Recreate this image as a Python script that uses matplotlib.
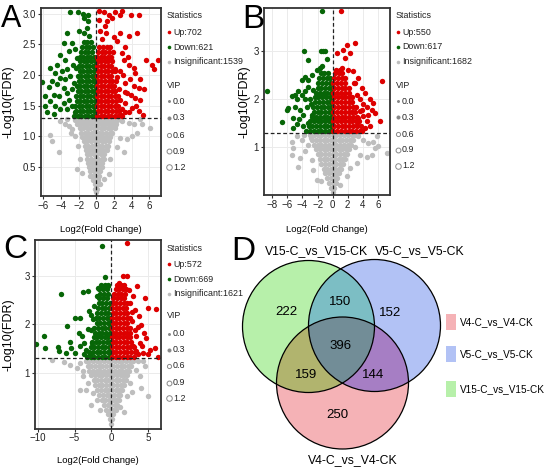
import numpy as np
import matplotlib
matplotlib.use("Agg")
import matplotlib.pyplot as plt
from matplotlib.colors import to_rgba
from matplotlib.patches import Circle, Rectangle

# ---------------------------------------------------------------- data
# volcano panels: dense cores written as (y, [x, ...]) rows, loose points as (x, y)
A_COUNTS = [702, 621, 1539]
B_COUNTS = [550, 617, 1682]
C_COUNTS = [572, 669, 1621]
VIP_LEVELS = ["0.0", "0.3", "0.6", "0.9", "1.2"]

A_UP_ROWS = [
    (1.34, [0.1, 0.5, 0.9, 1.3, 1.7, 2.1, 2.5, 2.9]),
    (1.42, [0.15, 0.55, 0.95, 1.35, 1.75, 2.2, 2.6]),
    (1.50, [0.1, 0.5, 0.9, 1.3, 1.7, 2.1, 2.45]),
    (1.58, [0.15, 0.55, 0.95, 1.35, 1.8, 2.2]),
    (1.66, [0.1, 0.5, 0.9, 1.3, 1.7, 2.1, 2.5]),
    (1.74, [0.15, 0.55, 0.95, 1.35, 1.75, 2.15]),
    (1.82, [0.1, 0.5, 0.9, 1.3, 1.7, 2.05]),
    (1.90, [0.15, 0.55, 0.95, 1.4, 1.8, 2.2]),
    (1.98, [0.1, 0.5, 0.9, 1.3, 1.7]),
    (2.06, [0.15, 0.55, 0.95, 1.35, 1.75, 2.1]),
    (2.14, [0.1, 0.5, 0.9, 1.3, 1.65]),
    (2.22, [0.15, 0.55, 0.95, 1.35, 1.8]),
    (2.30, [0.1, 0.5, 0.9, 1.3, 1.7]),
    (2.38, [0.2, 0.6, 1.0, 1.4, 1.85]),
    (2.45, [0.3, 0.75, 1.2, 1.6]),
]
A_UP_PTS = [
    (0.26, 3.04), (0.83, 3.02), (1.4, 2.98), (2.15, 3.02), (2.9, 3.04), (3.92, 2.98),
    (4.87, 2.98), (1.2, 2.88), (1.77, 2.93), (2.72, 2.98), (0.45, 2.71), (1.13, 2.69),
    (2.72, 2.69), (4.6, 2.69), (3.66, 2.63), (5.62, 2.25), (6.98, 2.25), (6.3, 2.17),
    (6.49, 2.09), (4.23, 2.12), (3.66, 2.17), (3.17, 2.25), (4.42, 2.04), (4.98, 1.93),
    (3.85, 1.93), (5.36, 1.77), (4.79, 1.79), (4.23, 1.82), (3.47, 1.71), (4.42, 1.63),
    (4.98, 1.6), (3.28, 1.55), (4.04, 1.47), (4.79, 1.41), (3.66, 1.39), (2.9, 1.44),
    (2.72, 1.6), (2.53, 1.77), (2.34, 1.96), (2.15, 2.09), (2.72, 2.06), (3.28, 1.87),
    (2.9, 2.36), (0.6, 2.58), (1.0, 2.8), (0.3, 2.9), (2.4, 2.55), (2.0, 2.62),
    (3.2, 2.45), (3.6, 2.3), (3.0, 2.0), (3.3, 1.72), (5.3, 1.35), (4.5, 1.5),
    (3.9, 1.68), (2.8, 1.35), (3.2, 1.4),
]
A_DOWN_ROWS = [
    (1.34, [-2.5, -2.1, -1.7, -1.3, -0.9, -0.5, -0.1]),
    (1.42, [-2.3, -1.9, -1.5, -1.1, -0.7, -0.3]),
    (1.50, [-2.4, -2.0, -1.6, -1.2, -0.8, -0.4, -0.1]),
    (1.58, [-2.2, -1.8, -1.4, -1.0, -0.6, -0.2]),
    (1.66, [-2.3, -1.9, -1.5, -1.1, -0.7, -0.3]),
    (1.74, [-2.1, -1.7, -1.3, -0.9, -0.5, -0.1]),
    (1.82, [-2.2, -1.8, -1.4, -1.0, -0.6, -0.2]),
    (1.90, [-2.0, -1.6, -1.2, -0.8, -0.4, -0.1]),
    (1.98, [-2.1, -1.7, -1.3, -0.9, -0.5, -0.15]),
    (2.06, [-1.9, -1.5, -1.1, -0.7, -0.3]),
    (2.14, [-2.0, -1.6, -1.2, -0.8, -0.4, -0.1]),
    (2.22, [-1.8, -1.4, -1.0, -0.6, -0.2]),
    (2.30, [-1.9, -1.5, -1.1, -0.7, -0.3]),
    (2.38, [-1.7, -1.3, -0.9, -0.5]),
    (2.46, [-1.6, -1.2, -0.8, -0.4]),
    (2.54, [-1.4, -1.0, -0.6]),
]
A_DOWN_PTS = [
    (-2.94, 3.02), (-2.11, 3.02), (-1.5, 3.0), (-0.98, 2.98), (-1.43, 2.93), (-0.98, 2.88),
    (-1.06, 2.77), (-1.43, 2.69), (-2.0, 2.71), (-0.87, 2.63), (-3.32, 2.69), (-3.7, 2.52),
    (-2.75, 2.52), (-3.13, 2.39), (-2.38, 2.42), (-4.08, 2.33), (-3.5, 2.25), (-4.45, 2.17),
    (-5.2, 2.12), (-4.64, 2.04), (-3.89, 2.06), (-3.32, 2.09), (-4.15, 1.95), (-3.5, 1.93),
    (-2.94, 1.98), (-6.15, 1.88), (-5.02, 1.9), (-5.4, 1.81), (-4.45, 1.85), (-3.7, 1.79),
    (-5.77, 1.66), (-4.83, 1.68), (-4.26, 1.66), (-3.32, 1.71), (-2.75, 1.77), (-5.2, 1.58),
    (-4.64, 1.49), (-3.7, 1.55), (-3.13, 1.6), (-5.77, 1.49), (-4.08, 1.44), (-3.32, 1.44),
    (-2.75, 1.49), (-5.58, 1.39), (-4.83, 1.36), (-2.38, 1.39), (-2.57, 1.87), (-2.64, 2.17),
    (-2.19, 2.28), (-2.26, 2.12),
]
A_GRAY_ROWS = [
    (1.27, [-2.4, -2.0, -1.6, -1.2, -0.8, -0.4, 0.0, 0.4, 0.8, 1.2, 1.6, 2.0, 2.4, 2.8]),
    (1.20, [-2.2, -1.8, -1.4, -1.0, -0.6, -0.2, 0.2, 0.6, 1.0, 1.4, 1.8, 2.2]),
    (1.13, [-1.9, -1.5, -1.1, -0.7, -0.3, 0.1, 0.5, 0.9, 1.3, 1.7, 2.1]),
    (1.06, [-1.7, -1.3, -0.9, -0.5, -0.1, 0.3, 0.7, 1.1, 1.5, 1.8]),
    (0.99, [-1.6, -1.2, -0.8, -0.4, 0.0, 0.4, 0.8, 1.2, 1.6]),
    (0.92, [-1.4, -1.0, -0.6, -0.2, 0.2, 0.6, 1.0, 1.4]),
    (0.85, [-1.3, -0.9, -0.5, -0.1, 0.3, 0.7, 1.1, 1.3]),
    (0.78, [-1.2, -0.8, -0.4, 0.0, 0.4, 0.8, 1.2]),
    (0.71, [-1.1, -0.7, -0.3, 0.1, 0.5, 0.9]),
    (0.64, [-1.0, -0.6, -0.2, 0.2, 0.6, 0.9]),
    (0.57, [-0.9, -0.5, -0.1, 0.3, 0.7]),
    (0.50, [-0.8, -0.4, 0.0, 0.4, 0.6]),
    (0.43, [-0.7, -0.3, 0.1, 0.4]),
    (0.36, [-0.5, -0.1, 0.3]),
    (0.29, [-0.4, 0.0, 0.25]),
    (0.22, [-0.2, 0.15]),
    (0.15, [-0.1, 0.1]),
    (0.09, [0.0]),
]
A_GRAY_PTS = [
    (-5.2, 1.03), (-5.02, 0.93), (-4.26, 0.74), (-3.5, 1.21), (-3.13, 1.17), (-2.75, 1.12),
    (-3.32, 1.28), (-4.08, 1.25), (-2.38, 1.01), (-2.11, 0.85), (-2.19, 0.47), (-1.62, 0.41),
    (-1.81, 0.63), (2.15, 1.17), (2.9, 1.25), (3.66, 1.22), (4.23, 1.2), (4.98, 1.28),
    (5.17, 1.2), (6.11, 1.14), (4.6, 1.06), (4.04, 1.01), (3.47, 0.95), (2.72, 0.98),
    (3.09, 0.74), (2.34, 0.82), (1.58, 0.63), (1.4, 0.38), (0.83, 0.3), (0.45, 0.22),
    (-0.68, 0.36), (-2.9, 1.05),
]

B_UP_ROWS = [
    (1.34, [0.1, 0.6, 1.1, 1.6, 2.1, 2.6, 3.1, 3.6]),
    (1.44, [0.2, 0.7, 1.2, 1.7, 2.2, 2.7, 3.2, 3.7]),
    (1.54, [0.1, 0.6, 1.1, 1.6, 2.1, 2.6, 3.1, 3.5]),
    (1.64, [0.2, 0.7, 1.2, 1.7, 2.2, 2.7, 3.2]),
    (1.74, [0.1, 0.6, 1.1, 1.6, 2.1, 2.6, 3.0]),
    (1.84, [0.2, 0.7, 1.2, 1.7, 2.2, 2.7, 3.1]),
    (1.94, [0.1, 0.6, 1.1, 1.6, 2.1, 2.6]),
    (2.04, [0.2, 0.7, 1.2, 1.7, 2.2, 2.6]),
    (2.14, [0.1, 0.6, 1.1, 1.6, 2.1]),
    (2.24, [0.2, 0.7, 1.2, 1.7, 2.2]),
    (2.34, [0.1, 0.6, 1.1, 1.6]),
    (2.44, [0.2, 0.7, 1.2, 1.6]),
    (2.54, [0.3, 0.8, 1.3]),
    (2.62, [0.5, 1.0]),
]
B_UP_PTS = [
    (1.1, 3.83), (0.53, 2.97), (1.41, 3.03), (1.94, 3.14), (2.96, 3.17), (2.3, 2.97),
    (1.63, 2.86), (1.19, 2.65), (0.88, 2.58), (2.08, 2.62), (2.74, 2.58), (3.4, 2.44),
    (2.96, 2.34), (3.84, 2.24), (4.28, 2.13), (6.5, 2.38), (4.95, 2.0), (5.39, 1.92),
    (5.17, 1.78), (4.5, 1.85), (5.61, 1.72), (4.73, 1.68), (3.84, 1.78), (4.06, 1.65),
    (3.4, 1.61), (4.5, 1.54), (4.28, 1.4), (6.27, 1.54), (3.18, 1.47), (3.62, 2.0),
    (3.18, 2.1), (4.0, 1.9), (3.6, 1.75), (4.9, 1.45), (3.9, 1.35), (2.8, 2.35),
]
B_DOWN_ROWS = [
    (1.34, [-3.5, -3.0, -2.5, -2.0, -1.5, -1.0, -0.5, -0.1]),
    (1.44, [-3.2, -2.7, -2.2, -1.7, -1.2, -0.7, -0.2]),
    (1.54, [-3.0, -2.5, -2.0, -1.5, -1.0, -0.5, -0.1]),
    (1.64, [-2.7, -2.2, -1.7, -1.2, -0.7, -0.2]),
    (1.74, [-2.5, -2.0, -1.5, -1.0, -0.5, -0.1]),
    (1.84, [-2.6, -2.1, -1.6, -1.1, -0.6, -0.2]),
    (1.94, [-2.3, -1.8, -1.3, -0.8, -0.3]),
    (2.04, [-2.4, -1.9, -1.4, -0.9, -0.4, -0.1]),
    (2.14, [-2.2, -1.7, -1.2, -0.7, -0.2]),
    (2.24, [-2.0, -1.5, -1.0, -0.5, -0.1]),
    (2.34, [-1.9, -1.4, -0.9, -0.4]),
    (2.44, [-1.8, -1.3, -0.8, -0.3]),
    (2.54, [-1.6, -1.1, -0.6]),
]
B_DOWN_PTS = [
    (-1.46, 3.83), (-3.8, 3.01), (-1.59, 3.0), (-1.24, 3.0), (-1.0, 3.01), (-3.22, 2.81),
    (-0.8, 2.83), (-1.46, 2.7), (-2.12, 2.62), (-1.68, 2.65), (-3.22, 2.41), (-3.67, 2.47),
    (-4.1, 2.41), (-2.78, 2.51), (-4.55, 2.17), (-4.1, 2.1), (-5.0, 2.1), (-5.43, 2.06),
    (-8.75, 2.17), (-4.77, 2.0), (-3.67, 2.17), (-3.67, 2.0), (-5.87, 1.82), (-5.0, 1.85),
    (-6.1, 1.78), (-4.33, 1.78), (-3.45, 1.85), (-3.89, 1.68), (-5.2, 1.61), (-6.76, 1.52),
    (-4.77, 1.49), (-5.21, 1.4), (-3.89, 1.44), (-3.22, 1.51), (-2.78, 1.68), (-3.0, 2.0),
    (-2.65, 2.2), (-4.4, 1.6), (-3.3, 2.25), (-2.9, 1.9),
]
B_GRAY_ROWS = [
    (1.26, [-3.0, -2.5, -2.0, -1.5, -1.0, -0.5, 0.0, 0.5, 1.0, 1.5, 2.0, 2.5, 3.0]),
    (1.16, [-2.7, -2.2, -1.7, -1.2, -0.7, -0.2, 0.3, 0.8, 1.3, 1.8, 2.3, 2.7]),
    (1.06, [-2.5, -2.0, -1.5, -1.0, -0.5, 0.0, 0.5, 1.0, 1.5, 2.0, 2.4]),
    (0.96, [-2.2, -1.7, -1.2, -0.7, -0.2, 0.3, 0.8, 1.3, 1.8, 2.2]),
    (0.86, [-2.0, -1.5, -1.0, -0.5, 0.0, 0.5, 1.0, 1.5, 1.9]),
    (0.76, [-1.7, -1.2, -0.7, -0.2, 0.3, 0.8, 1.3, 1.6]),
    (0.66, [-1.5, -1.0, -0.5, 0.0, 0.5, 1.0, 1.4]),
    (0.56, [-1.2, -0.7, -0.2, 0.3, 0.8, 1.1]),
    (0.46, [-1.0, -0.5, 0.0, 0.5, 0.9]),
    (0.36, [-0.7, -0.2, 0.3, 0.6]),
    (0.26, [-0.5, 0.0, 0.4]),
    (0.16, [-0.2, 0.2]),
    (0.08, [0.0]),
]
B_GRAY_PTS = [
    (-5.43, 1.12), (-5.21, 0.99), (-5.43, 0.85), (-4.55, 0.6), (-4.33, 0.78), (-3.67, 0.92),
    (-3.22, 1.06), (-4.1, 1.16), (-4.77, 1.23), (-2.78, 0.74), (-2.56, 0.53), (-2.12, 0.33),
    (3.4, 1.23), (4.06, 1.16), (4.73, 1.09), (5.39, 1.12), (5.83, 1.23), (5.61, 0.99),
    (6.05, 1.02), (7.16, 0.88), (5.17, 0.85), (4.5, 0.81), (3.62, 0.85), (3.18, 0.67),
    (2.3, 0.57), (1.86, 0.4), (0.97, 0.22), (-3.8, 1.25), (-2.9, 1.2), (2.9, 1.0),
    (-1.6, 0.3),
]

C_UP_ROWS = [
    (1.33, [0.1, 0.6, 1.1, 1.6, 2.1, 2.6, 3.1]),
    (1.43, [0.2, 0.7, 1.2, 1.7, 2.2, 2.7, 3.2]),
    (1.53, [0.1, 0.6, 1.1, 1.6, 2.1, 2.6, 3.1]),
    (1.63, [0.2, 0.7, 1.2, 1.7, 2.2, 2.7]),
    (1.73, [0.1, 0.6, 1.1, 1.6, 2.1, 2.6]),
    (1.83, [0.2, 0.7, 1.2, 1.7, 2.2, 2.6]),
    (1.93, [0.1, 0.6, 1.1, 1.6, 2.1, 2.5]),
    (2.03, [0.2, 0.7, 1.2, 1.7, 2.2]),
    (2.13, [0.1, 0.6, 1.1, 1.6, 2.1, 2.5]),
    (2.23, [0.2, 0.7, 1.2, 1.7, 2.2]),
    (2.33, [0.1, 0.6, 1.1, 1.6, 2.0]),
    (2.43, [0.2, 0.7, 1.2, 1.7, 2.1]),
    (2.53, [0.3, 0.8, 1.3, 1.8]),
    (2.63, [0.4, 0.9, 1.4, 1.9]),
    (2.73, [0.6, 1.1, 1.6, 2.0]),
    (2.81, [0.8, 1.3, 1.8]),
]
C_UP_PTS = [
    (2.1, 3.66), (1.6, 2.99), (2.1, 2.99), (1.0, 2.85), (3.5, 2.78), (4.6, 2.54),
    (5.0, 2.34), (6.1, 2.32), (3.8, 2.16), (4.1, 1.99), (4.5, 1.82), (4.8, 1.72),
    (6.0, 1.51), (6.4, 1.33), (5.3, 1.48), (3.9, 1.62), (3.45, 1.75), (3.2, 1.89),
    (4.4, 1.41), (3.7, 1.38), (3.0, 1.55), (2.8, 2.06), (2.5, 2.44), (3.0, 2.58),
    (2.45, 2.71), (3.3, 2.3), (3.6, 1.95), (4.2, 1.55), (5.0, 1.38), (2.9, 2.25),
    (3.4, 1.45),
]
C_DOWN_ROWS = [
    (1.33, [-3.3, -2.8, -2.3, -1.8, -1.3, -0.8, -0.3]),
    (1.43, [-3.0, -2.5, -2.0, -1.5, -1.0, -0.5, -0.1]),
    (1.53, [-2.8, -2.3, -1.8, -1.3, -0.8, -0.3]),
    (1.63, [-2.6, -2.1, -1.6, -1.1, -0.6, -0.1]),
    (1.73, [-2.4, -1.9, -1.4, -0.9, -0.4]),
    (1.83, [-2.2, -1.7, -1.2, -0.7, -0.2]),
    (1.93, [-2.3, -1.8, -1.3, -0.8, -0.3]),
    (2.03, [-2.0, -1.5, -1.0, -0.5, -0.1]),
    (2.13, [-2.1, -1.6, -1.1, -0.6, -0.2]),
    (2.23, [-1.9, -1.4, -0.9, -0.4]),
    (2.33, [-1.8, -1.3, -0.8, -0.3]),
    (2.43, [-1.7, -1.2, -0.7, -0.2]),
    (2.53, [-1.6, -1.1, -0.6]),
    (2.63, [-1.5, -1.0, -0.5]),
    (2.73, [-1.6, -1.1, -0.6]),
    (2.81, [-1.4, -0.9, -0.4]),
]
C_DOWN_PTS = [
    (-1.3, 3.6), (-6.9, 2.63), (-3.8, 2.66), (-3.1, 2.68), (-4.9, 2.13), (-6.0, 1.97),
    (-4.2, 2.13), (-9.2, 1.75), (-10.2, 1.6), (-9.1, 1.51), (-7.2, 1.53), (-7.1, 1.45),
    (-5.6, 1.63), (-5.5, 1.51), (-6.2, 1.41), (-5.0, 1.41), (-4.4, 1.82), (-4.0, 1.75),
    (-3.7, 1.62), (-3.4, 1.48), (-2.9, 1.38), (-3.7, 1.38), (-4.3, 1.55), (-2.7, 1.88),
    (-2.5, 2.1), (-2.7, 2.2), (-3.0, 2.27), (-2.4, 2.37), (-2.0, 2.58), (-1.8, 2.75),
    (-0.9, 2.97), (-0.5, 2.78), (-3.2, 1.9), (-2.6, 1.62),
]
C_GRAY_ROWS = [
    (1.25, [-3.5, -3.0, -2.5, -2.0, -1.5, -1.0, -0.5, 0.0, 0.5, 1.0, 1.5, 2.0, 2.5, 3.0]),
    (1.15, [-3.2, -2.7, -2.2, -1.7, -1.2, -0.7, -0.2, 0.3, 0.8, 1.3, 1.8, 2.3, 2.7]),
    (1.05, [-3.0, -2.5, -2.0, -1.5, -1.0, -0.5, 0.0, 0.5, 1.0, 1.5, 2.0, 2.4]),
    (0.95, [-2.7, -2.2, -1.7, -1.2, -0.7, -0.2, 0.3, 0.8, 1.3, 1.8, 2.2]),
    (0.85, [-2.4, -1.9, -1.4, -0.9, -0.4, 0.1, 0.6, 1.1, 1.6, 2.0]),
    (0.75, [-2.2, -1.7, -1.2, -0.7, -0.2, 0.3, 0.8, 1.3, 1.7]),
    (0.65, [-1.9, -1.4, -0.9, -0.4, 0.1, 0.6, 1.1, 1.5]),
    (0.55, [-1.6, -1.1, -0.6, -0.1, 0.4, 0.9, 1.2]),
    (0.45, [-1.3, -0.8, -0.3, 0.2, 0.7, 1.0]),
    (0.35, [-1.0, -0.5, 0.0, 0.5, 0.8]),
    (0.25, [-0.7, -0.2, 0.3, 0.6]),
    (0.15, [-0.4, 0.0, 0.3]),
    (0.05, [-0.2, 0.15]),
    (-0.05, [0.0]),
]
C_GRAY_PTS = [
    (-8.1, 1.26), (-6.5, 1.22), (-5.6, 1.17), (-4.7, 1.1), (-3.8, 0.93), (-3.1, 0.79),
    (-4.3, 0.66), (-2.5, 0.59), (-2.0, 0.45), (-1.5, 0.25), (5.0, 0.52), (4.1, 0.69),
    (3.9, 0.93), (3.45, 1.07), (4.6, 1.14), (2.5, 0.79), (2.1, 0.52), (1.2, 0.31),
    (-4.2, 1.2), (-3.9, 1.05), (3.6, 1.25), (4.3, 1.25), (-2.8, 0.35), (1.8, 0.2),
    (2.8, 0.6), (-3.4, 0.65),
]

# venn
VENN_SETS = ["V4-C_vs_V4-CK", "V5-C_vs_V5-CK", "V15-C_vs_V15-CK"]
VENN_COUNTS = {"g": 222, "gb": 150, "b": 152, "gbp": 396, "gp": 159, "bp": 144, "p": 250}

# ---------------------------------------------------------------- style
plt.rcParams["font.family"] = ["Liberation Sans", "DejaVu Sans"]

RED = "#DD0000"
GREEN = "#076607"
GRAY = "#BEBEBE"
TXT = "#222222"
FDR_CUT = -np.log10(0.05)

fig = plt.figure(figsize=(5.5, 4.69), dpi=100)
W, H = 550, 469


def px_rect(left, top, right, bottom):
    return [left / W, 1 - bottom / H, (right - left) / W, (bottom - top) / H]


def expand(rows, pts):
    out = [(x, y) for y, xs in rows for x in xs] + list(pts)
    return np.array(out)


def volcano(rect, xlim, ylim, xticks, yticks, ylabs, gray, down, up, ylab_x, xlab_y):
    ax = fig.add_axes(rect)
    for arr, col in ((gray, GRAY), (down, GREEN), (up, RED)):
        ax.scatter(arr[:, 0], arr[:, 1], s=15, c=col, linewidths=0, zorder=2)
    ax.axhline(FDR_CUT, color=TXT, ls=(0, (3, 2)), lw=0.9, zorder=3)
    ax.axvline(0, color=TXT, ls=(0, (3, 2)), lw=0.9, zorder=3)
    ax.set_xlim(xlim)
    ax.set_ylim(ylim)
    ax.set_xticks(xticks)
    ax.set_yticks(yticks)
    ax.set_yticklabels(ylabs)
    ax.grid(True, color="#EBEBEB", lw=0.7, zorder=0)
    ax.set_axisbelow(True)
    for sp in ax.spines.values():
        sp.set_color("#333333")
        sp.set_linewidth(1.3)
    ax.tick_params(length=2, width=0.8, color="#333333", labelsize=7, labelcolor=TXT, pad=1.5)
    ax.set_ylabel("-Log10(FDR)", fontsize=9)
    ax.yaxis.set_label_coords(ylab_x, 0.5)
    ax.set_xlabel("Log2(Fold Change)", fontsize=6.8)
    ax.xaxis.set_label_coords(0.5, xlab_y)
    return ax


volcano(px_rect(40.7, 8, 160.7, 196), (-6.3, 7.3), (0.03, 3.09), [-6, -4, -2, 0, 2, 4, 6],
        [0.5, 1.0, 1.5, 2.0, 2.5, 3.0], ["0.5", "1.0", "1.5", "2.0", "2.5", "3.0"],
        expand(A_GRAY_ROWS, A_GRAY_PTS), expand(A_DOWN_ROWS, A_DOWN_PTS),
        expand(A_UP_ROWS, A_UP_PTS), -0.215, -0.155)
volcano(px_rect(264, 8, 390, 195), (-9.1, 7.6), (0.01, 3.9), [-8, -6, -4, -2, 0, 2, 4, 6],
        [1, 2, 3], ["1", "2", "3"],
        expand(B_GRAY_ROWS, B_GRAY_PTS), expand(B_DOWN_ROWS, B_DOWN_PTS),
        expand(B_UP_ROWS, B_UP_PTS), -0.11, -0.16)
volcano(px_rect(35, 240, 161, 428.5), (-10.4, 6.8), (-0.14, 3.73), [-10, -5, 0, 5],
        [1, 2, 3], ["1", "2", "3"],
        expand(C_GRAY_ROWS, C_GRAY_PTS), expand(C_DOWN_ROWS, C_DOWN_PTS),
        expand(C_UP_ROWS, C_UP_PTS), -0.16, -0.146)

# overlay in pixel coordinates for legends, letters and the venn diagram
ov = fig.add_axes([0, 0, 1, 1], zorder=5)
ov.set_xlim(0, W)
ov.set_ylim(H, 0)
ov.axis("off")

LEG_FS = 6.4


def side_legend(x0, ys, counts):
    # ys: statistics title, 3 items, VIP title, 5 items
    ov.text(x0, ys[0], "Statistics", fontsize=LEG_FS, va="center", ha="left", color=TXT)
    labs = [f"Up:{counts[0]}", f"Down:{counts[1]}", f"Insignificant:{counts[2]}"]
    for y, lab, col in zip(ys[1:4], labs, (RED, GREEN, GRAY)):
        ov.plot([x0 + 2.5], [y], "o", ms=2.6, color=col, mec="none")
        ov.text(x0 + 6.5, y, lab, fontsize=LEG_FS, va="center", ha="left", color=TXT)
    ov.text(x0, ys[4], "VIP", fontsize=LEG_FS, va="center", ha="left", color=TXT)
    sizes = [1.4, 2.2, 3.0, 3.5, 4.0]
    for i, (y, lab, ms) in enumerate(zip(ys[5:], VIP_LEVELS, sizes)):
        filled = i < 2
        ov.plot([x0 + 2.5], [y], "o", ms=ms, mfc="#888888" if filled else "none",
                mec="#888888", mew=0.7)
        ov.text(x0 + 6.5, y, lab, fontsize=LEG_FS, va="center", ha="left", color=TXT)


side_legend(166.5, [16, 32.3, 47.5, 62, 86, 101, 118, 135, 151, 167], A_COUNTS)
side_legend(395.5, [16, 32.3, 46.7, 61.7, 85, 101, 117.3, 134.3, 150, 165.7], B_COUNTS)
side_legend(166.5, [248.3, 264.3, 279.3, 294, 316, 334, 350, 366, 382.7, 398.3], C_COUNTS)

for lab, x, y in (("A", 0.5, 19), ("B", 242, 19), ("C", 3, 250), ("D", 231, 251.5)):
    ov.text(x, y, lab, fontsize=22 if lab == "A" else 24, va="center", ha="left")

# venn: three circles, region colours painted on a fine raster
R = 66
CEN = {"g": (308.5, 326.5), "b": (374.5, 325.5), "p": (342.5, 383.0)}
REGION_COL = {"g": "#B7F0AA", "b": "#B2C2F5", "p": "#F5B2B6", "gb": "#7CBEC4",
              "gp": "#B1B46E", "bp": "#A67EC4", "gbp": "#728D97"}
vx = np.arange(230, 460, 0.5) + 0.25
vy = np.arange(248, 465, 0.5) + 0.25
gx, gy = np.meshgrid(vx, vy)
member = {k: (gx - c[0]) ** 2 + (gy - c[1]) ** 2 <= R ** 2 for k, c in CEN.items()}
img = np.zeros(gx.shape + (4,))
for key, col in REGION_COL.items():
    mask = np.ones(gx.shape, bool)
    for k in "gbp":
        mask &= member[k] if k in key else ~member[k]
    img[mask] = to_rgba(col)
ov.imshow(img, extent=(230, 460, 465, 248), origin="upper", aspect="auto",
          interpolation="nearest", zorder=1)
ov.set_xlim(0, W)
ov.set_ylim(H, 0)
for c in CEN.values():
    ov.add_patch(Circle(c, R, fill=False, ec="black", lw=0.9, zorder=2))

NUM_POS = {"g": (286.7, 311.7), "gb": (340, 301.7), "b": (390, 312.7), "gbp": (341, 346),
           "gp": (305.7, 375), "bp": (373.3, 375), "p": (337.7, 415)}
for key, (x, y) in NUM_POS.items():
    ov.text(x, y, str(VENN_COUNTS[key]), fontsize=9.5, ha="center", va="center", zorder=3)

ov.text(316.5, 250.7, VENN_SETS[2], fontsize=8.8, ha="center", va="center")
ov.text(419.5, 250.7, VENN_SETS[1], fontsize=8.8, ha="center", va="center")
ov.text(353, 460, VENN_SETS[0], fontsize=8.8, ha="center", va="center")

for lab, col, y in zip(VENN_SETS, (REGION_COL["p"], REGION_COL["b"], REGION_COL["g"]),
                       (322, 354.5, 389)):
    ov.add_patch(Rectangle((446, y - 8), 10, 16, color=col, lw=0))
    ov.text(460, y, lab, fontsize=7.2, ha="left", va="center")

fig.savefig("out.png", dpi=100)
